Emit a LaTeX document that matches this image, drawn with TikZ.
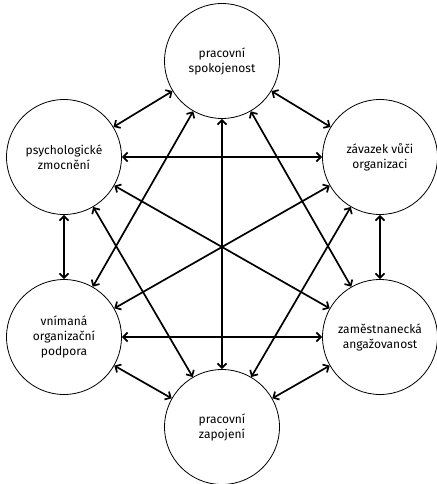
\documentclass[tikz,border=0pt]{standalone}
\usepackage{fontspec}
\setmainfont{Fira Sans}
\usetikzlibrary{arrows.meta}
\begin{document}
\begin{tikzpicture}[x=1pt,y=-1pt,
  concept/.style={draw, circle, line width=0.8pt, minimum size=115pt, inner sep=0pt,
    align=center, font=\fontsize{12}{15}\selectfont},
  link/.style={line width=1.7pt, {Straight Barb[length=4.5pt,width=9pt]}-{Straight Barb[length=4.5pt,width=9pt]}}]
\useasboundingbox (0,0) rectangle (436,484);
\node[concept] (ps) at (222,61) {pracovní\\spokojenost};
\node[concept] (zo) at (380,157) {závazek vůči\\organizaci};
\node[concept] (za) at (380,337) {zaměstnanecká\\angažovanost};
\node[concept] (pz) at (222,427) {pracovní\\zapojení};
\node[concept] (vo) at (64,337) {vnímaná\\organizační\\podpora};
\node[concept] (pm) at (64,157) {psychologické\\zmocnění};
\foreach \a/\b in {ps/zo,ps/za,ps/pz,ps/vo,ps/pm,zo/za,zo/pz,zo/vo,zo/pm,za/pz,za/vo,za/pm,pz/vo,pz/pm,vo/pm}
  \draw[link] (\a) -- (\b);
\end{tikzpicture}
\end{document}
